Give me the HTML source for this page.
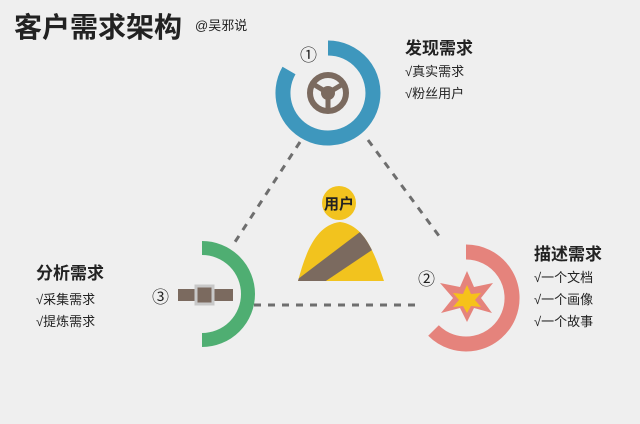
<!DOCTYPE html>
<html><head><meta charset="utf-8"><style>
body{margin:0;background:#efefef;}
svg{display:block}
text{font-family:"Liberation Sans","Noto Sans CJK SC",sans-serif;fill:#222}
</style></head><body>
<svg width="640" height="424" viewBox="0 0 640 424">
<rect width="640" height="424" fill="#efefef"/>
<text x="14" y="37" font-size="28" font-weight="bold">客户需求架构</text>
<text x="195" y="30" font-size="13" fill="#444">@吴邪说</text>

<g stroke="#6e6e6e" stroke-width="3" stroke-dasharray="7 7" fill="none">
<line x1="300" y1="142" x2="233" y2="245"/>
<line x1="368" y1="140" x2="442" y2="240"/>
<line x1="254" y1="305" x2="420" y2="305"/>
</g>

<!-- blue -->
<path d="M328 48 A45 45 0 1 1 289 70.5" fill="none" stroke="#3e97bd" stroke-width="15"/>
<circle cx="328" cy="93" r="18" fill="none" stroke="#7b6a5f" stroke-width="6"/>
<g stroke="#7b6a5f" stroke-width="5"><line x1="328" y1="93" x2="313" y2="84"/><line x1="328" y1="93" x2="343" y2="84"/><line x1="328" y1="93" x2="328" y2="111"/></g>
<circle cx="328" cy="93" r="7" fill="#7b6a5f"/>
<text x="300" y="61" font-size="17">①</text>
<text x="405" y="54" font-size="17" font-weight="bold">发现需求</text>
<text x="405" y="76" font-size="13" fill="#333">√真实需求</text>
<text x="405" y="98" font-size="13" fill="#333">√粉丝用户</text>

<!-- red -->
<path d="M466 252 A46 46 0 1 1 433.5 330.5" fill="none" stroke="#e5837c" stroke-width="15"/>
<polygon points="467,271 474,287 493,283 481,298 492,313 474,308 467,322 460,308 441,313 453,298 440,283 460,287" fill="#e5837c"/>
<polygon points="467,285 471,294 481,293 475,300 481,307 471,306 467,313 463,306 453,307 459,300 453,293 463,294" fill="#f6c21a"/>
<text x="418" y="285" font-size="17">②</text>
<text x="534" y="260" font-size="17" font-weight="bold">描述需求</text>
<text x="534" y="282" font-size="13" fill="#333">√一个文档</text>
<text x="534" y="304" font-size="13" fill="#333">√一个画像</text>
<text x="534" y="326" font-size="13" fill="#333">√一个故事</text>

<!-- green -->
<path d="M202 248 A46 46 0 0 1 202 340" fill="none" stroke="#4fae72" stroke-width="14"/>
<rect x="178" y="289" width="55" height="12" fill="#7b6a5f"/>
<rect x="196" y="286" width="17" height="18" fill="#7b6a5f" stroke="#c8c8c8" stroke-width="3"/>
<text x="152" y="303" font-size="17">③</text>
<text x="36" y="279" font-size="17" font-weight="bold">分析需求</text>
<text x="36" y="304" font-size="13" fill="#333">√采集需求</text>
<text x="36" y="326" font-size="13" fill="#333">√提炼需求</text>

<!-- user -->
<clipPath id="b"><path d="M298 281 C305 255 315 225 340 222 C365 225 375 255 384 281 Z"/></clipPath>
<path d="M298 281 C305 255 315 225 340 222 C365 225 375 255 384 281 Z" fill="#f2c31e"/>
<g clip-path="url(#b)"><polygon points="290,285 360,232 375,248 305,295" fill="#7b6a5f"/></g>
<circle cx="339" cy="203" r="17" fill="#f2c31e"/>
<text x="339" y="209" font-size="15" font-weight="bold" text-anchor="middle">用户</text>
</svg>
</body></html>
